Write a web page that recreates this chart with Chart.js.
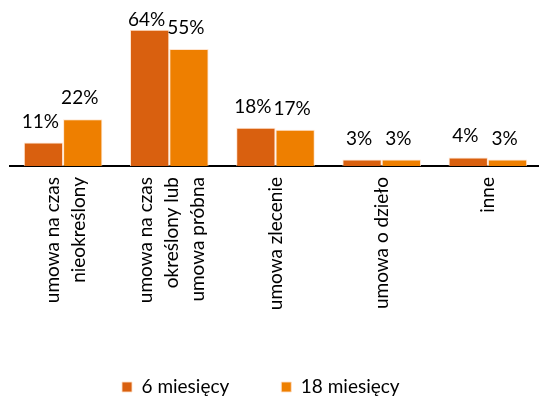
<!DOCTYPE html>
<html>
<head>
<meta charset="utf-8">
<script src="https://cdn.jsdelivr.net/npm/chart.js@4/dist/chart.umd.min.js"></script>
<style>
html,body{margin:0;padding:0;background:#fff;overflow:hidden;}
canvas{display:block;}
</style>
</head>
<body>
<canvas id="c" width="541" height="400"></canvas>
<script>
const categories = [
  ['umowa na czas', 'nieokreślony'],
  ['umowa na czas', 'określony lub', 'umowa próbna'],
  'umowa zlecenie',
  'umowa o dzieło',
  'inne'
];
const seriesNames = ['6 miesięcy', '18 miesięcy'];
const values6 = [11, 64, 18, 3, 4];
const values18 = [22, 55, 17, 3, 3];

const FONT = 'Lato';
const AXIS_Y = 166;
const LEGEND_CENTER_Y = 387;
const LEGEND_START_X = 122;
const LEGEND_PAD = 52;
const LEGEND_FS = 19;

const valueLabels = {
  id: 'valueLabels',
  afterDatasetsDraw(chart) {
    const ctx = chart.ctx;
    ctx.save();
    ctx.font = '19px ' + FONT;
    ctx.fillStyle = '#000';
    ctx.textAlign = 'center';
    ctx.textBaseline = 'alphabetic';
    chart.data.datasets.forEach((ds, i) => {
      chart.getDatasetMeta(i).data.forEach((bar, j) => {
        const y = Math.max(bar.y - 15, 26);
        ctx.fillText(ds.data[j] + '%', bar.x - 3, y);
      });
    });
    ctx.restore();
  }
};

// center multi-line rotated category labels on their tick
const centerLabels = {
  id: 'centerLabels',
  beforeDraw(chart) {
    const sx = chart.scales.x;
    const items = sx.getLabelItems(chart.chartArea);
    if (items._centered) return;
    items._centered = true;
    items.forEach(it => {
      const n = Array.isArray(it.label) ? it.label.length : 1;
      if (n > 1) {
        it.options.translation[0] -= (n - 1) * it.font.lineHeight / 2 - 3;
      }
    });
  }
};

const legendPlace = {
  id: 'legendPlace',
  afterLayout(chart) {
    const lg = chart.legend;
    if (!lg) return;
    const top = LEGEND_CENTER_Y - LEGEND_FS / 2 - LEGEND_PAD;
    lg.top = top;
    lg.bottom = top + lg.height;
    const lw = lg.lineWidths ? lg.lineWidths[0] : 0;
    const curX = (lg.left + LEGEND_PAD + lg.right - lw) / 2;
    const dx = LEGEND_START_X - curX;
    lg.left += dx;
    lg.right += dx;
  }
};

new Chart(document.getElementById('c'), {
  type: 'bar',
  data: {
    labels: categories,
    datasets: [
      {
        label: seriesNames[0],
        data: values6,
        backgroundColor: '#D9600F',
        borderColor: 'rgba(255,225,200,0.85)',
        borderWidth: 1,
        categoryPercentage: 0.74,
        barPercentage: 1.0
      },
      {
        label: seriesNames[1],
        data: values18,
        backgroundColor: '#EE7F00',
        borderColor: 'rgba(255,225,200,0.85)',
        borderWidth: 1,
        categoryPercentage: 0.74,
        barPercentage: 1.0
      }
    ]
  },
  options: {
    responsive: false,
    animation: false,
    layout: { padding: { left: 10, right: 0, top: 0, bottom: 0 } },
    plugins: {
      tooltip: { enabled: false },
      legend: {
        position: 'bottom',
        labels: {
          boxWidth: 10,
          boxHeight: 10,
          padding: LEGEND_PAD,
          color: '#000',
          font: { family: FONT, size: LEGEND_FS }
        }
      }
    },
    scales: {
      x: {
        grid: { display: false, drawTicks: false },
        border: { display: true, color: '#000', width: 2 },
        ticks: {
          color: '#000',
          minRotation: 90,
          maxRotation: 90,
          autoSkip: false,
          padding: 11,
          font: { family: FONT, size: 19, lineHeight: 1.37 }
        },
        afterFit(scale) {
          const lh = scale.chart.legend ? scale.chart.legend.height : 0;
          scale.height = 400 - AXIS_Y - lh;
        }
      },
      y: {
        display: false,
        min: 0,
        max: 78
      }
    }
  },
  plugins: [valueLabels, centerLabels, legendPlace]
});
</script>
</body>
</html>
